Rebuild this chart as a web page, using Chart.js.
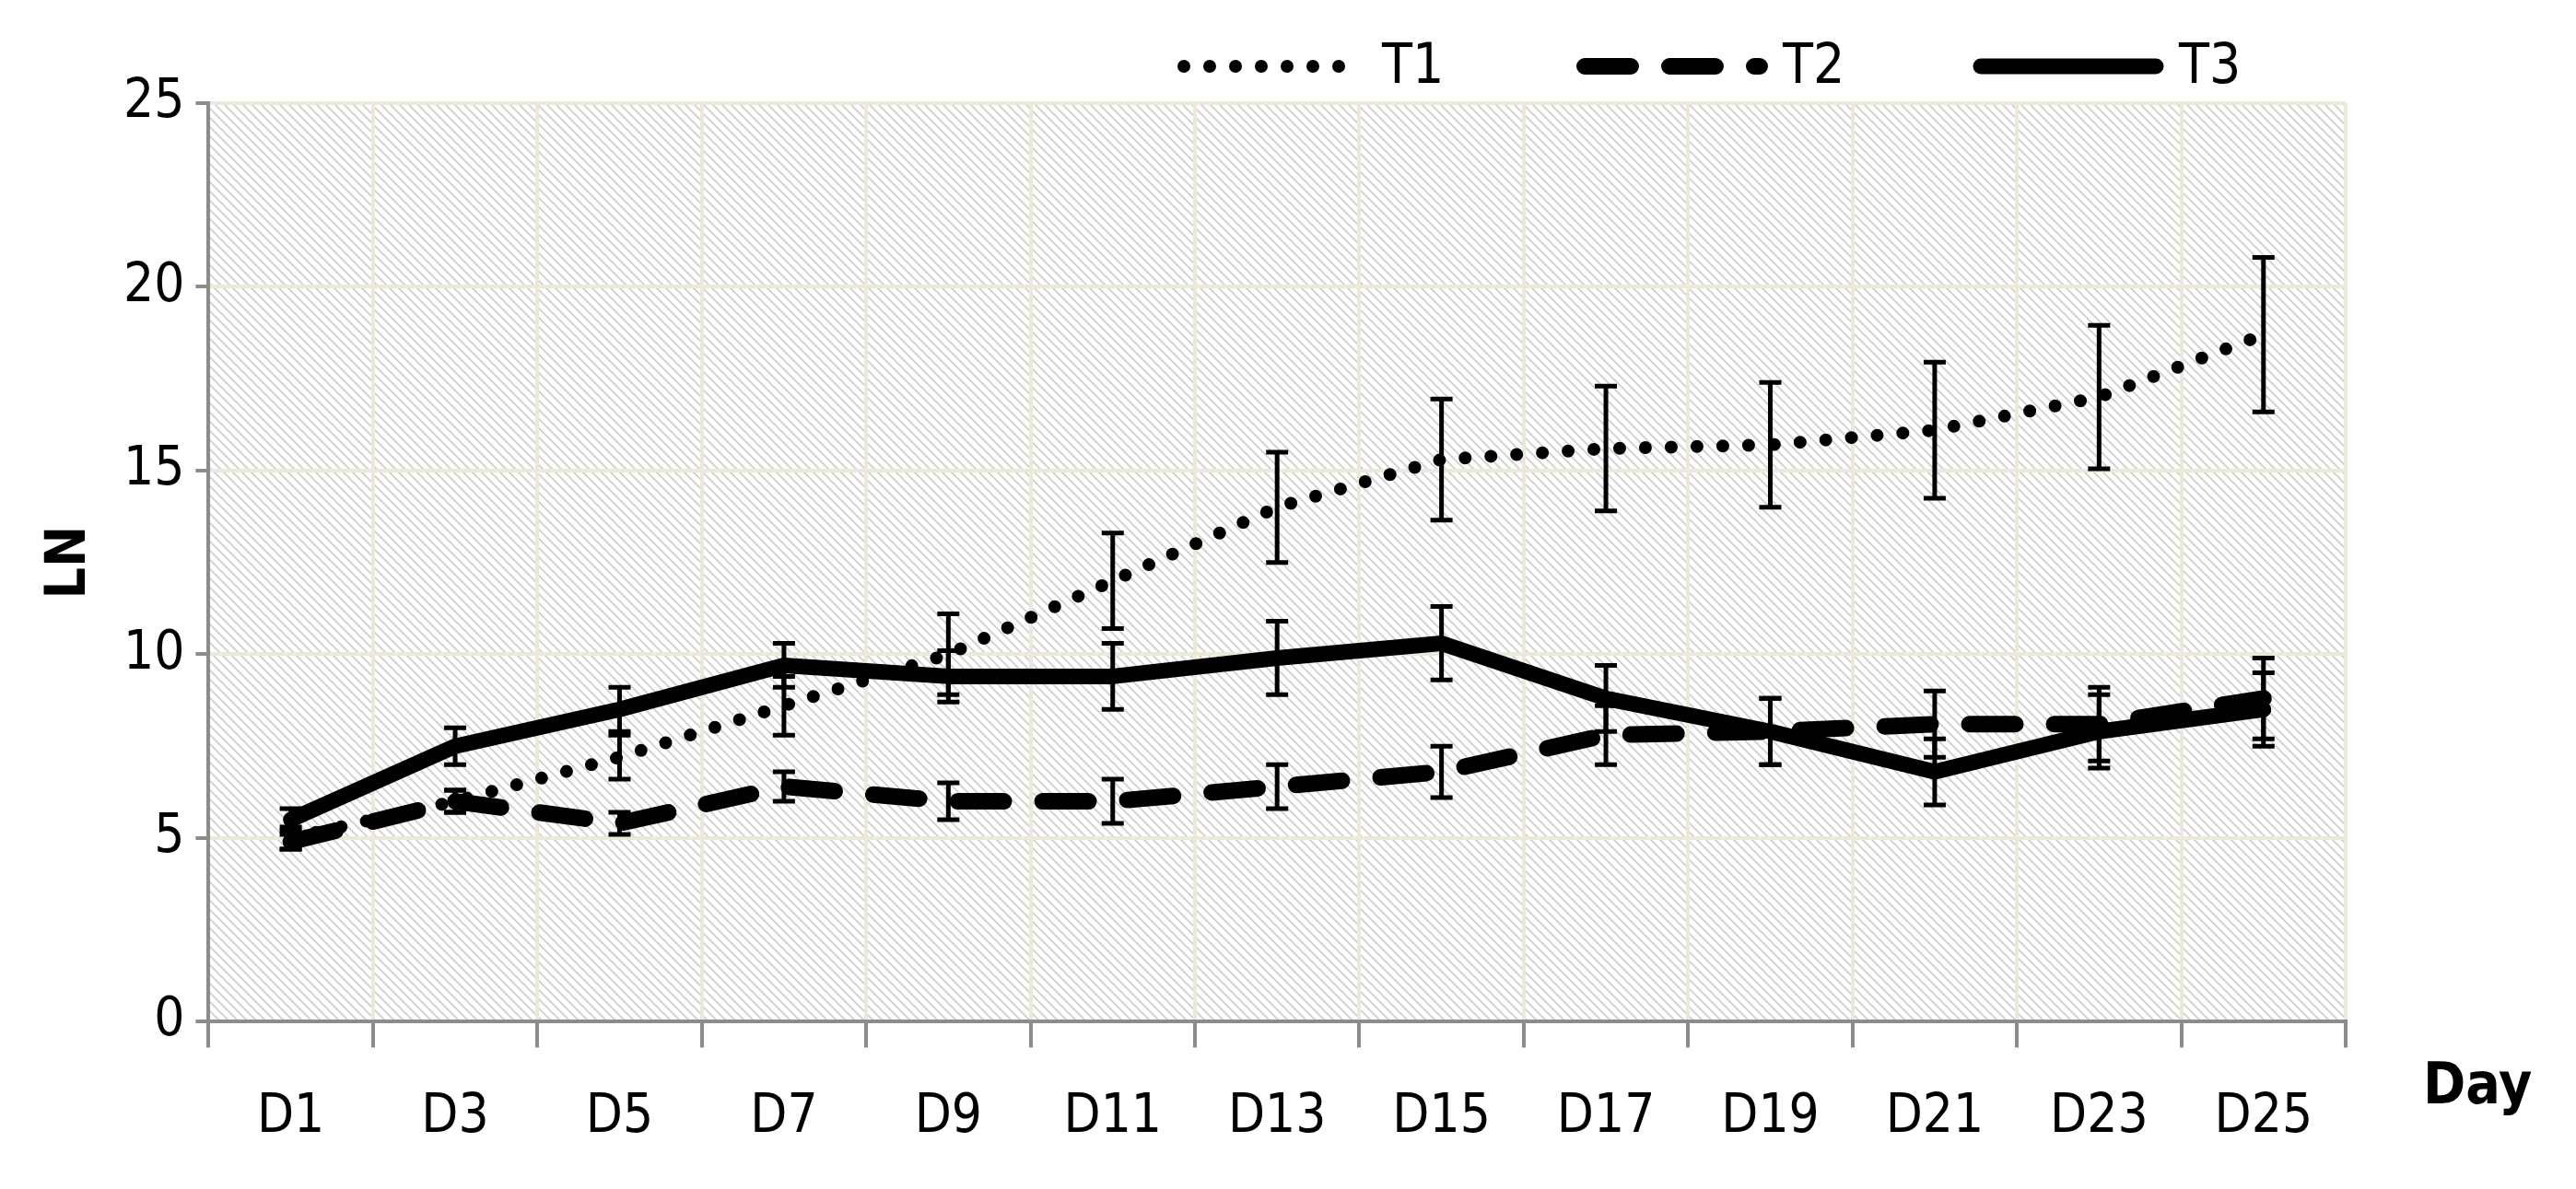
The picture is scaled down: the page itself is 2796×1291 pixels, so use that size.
<!DOCTYPE html>
<html>
<head>
<meta charset="utf-8">
<script src="https://cdn.jsdelivr.net/npm/chart.js@4.4.1/dist/chart.umd.min.js"></script>
<style>
  html, body { margin: 0; padding: 0; background: #fff; }
  #wrap { width: 2796px; height: 1291px; }
</style>
</head>
<body>
<div id="wrap"><canvas id="chart" width="2796" height="1291"></canvas></div>
<script>
const days = ["D1", "D3", "D5", "D7", "D9", "D11", "D13", "D15", "D17", "D19", "D21", "D23", "D25"];
const yTicks = [0, 5, 10, 15, 20, 25];

const t1 = [5.0, 6.0, 7.2, 8.6, 10.0, 12.0, 14.0, 15.3, 15.6, 15.7, 16.1, 17.0, 18.7];
const t1Err = [0.3, 0.3, 0.6, 0.8, 1.1, 1.3, 1.5, 1.65, 1.7, 1.7, 1.85, 1.95, 2.1];
const t2 = [4.9, 6.0, 5.4, 6.4, 6.0, 6.0, 6.4, 6.8, 7.8, 7.9, 8.1, 8.1, 8.8];
const t2Err = [0.2, 0.3, 0.3, 0.4, 0.5, 0.6, 0.6, 0.7, 0.8, 0.9, 0.9, 1.0, 1.1];
const t3 = [5.5, 7.5, 8.5, 9.7, 9.4, 9.4, 9.9, 10.3, 8.8, 7.9, 6.8, 7.9, 8.5];
const t3Err = [0.3, 0.5, 0.6, 0.6, 0.7, 0.9, 1.0, 1.0, 0.9, 0.9, 0.9, 1.0, 1.0];

const FONT = "'DejaVu Sans Condensed', 'Liberation Sans Narrow', sans-serif";

function makeHatch() {
  const c = document.createElement("canvas");
  c.width = 10;
  c.height = 10;
  const g = c.getContext("2d");
  g.fillStyle = "#ffffff";
  g.fillRect(0, 0, 10, 10);
  g.strokeStyle = "#cfcfcf";
  g.lineWidth = 1.8;
  g.beginPath();
  g.moveTo(0, 0); g.lineTo(10, 10);
  g.moveTo(-5, 5); g.lineTo(5, 15);
  g.moveTo(5, -5); g.lineTo(15, 5);
  g.stroke();
  return g.createPattern(c, "repeat");
}

const series = [
  { label: "T1", data: t1, err: t1Err, width: 14, dash: [0, 28], cap: "round" },
  { label: "T2", data: t2, err: t2Err, width: 18, dash: [50, 42], cap: "round" },
  { label: "T3", data: t3, err: t3Err, width: 17, dash: [], cap: "round" },
];

const backgroundPlugin = {
  id: "hatchBg",
  beforeDraw(chart) {
    const { ctx, chartArea: a } = chart;
    ctx.save();
    ctx.fillStyle = makeHatch();
    ctx.fillRect(a.left, a.top, a.right - a.left, a.bottom - a.top);
    ctx.restore();
  },
};

const errorBarPlugin = {
  id: "errorBars",
  afterDatasetsDraw(chart) {
    const { ctx, scales } = chart;
    ctx.save();
    ctx.strokeStyle = "#000";
    ctx.lineWidth = 5;
    series.forEach((s) => {
      s.data.forEach((v, i) => {
        const x = scales.x.getPixelForValue(i);
        const yTop = scales.y.getPixelForValue(v + s.err[i]);
        const yBot = scales.y.getPixelForValue(v - s.err[i]);
        ctx.beginPath();
        ctx.moveTo(x, yTop); ctx.lineTo(x, yBot);
        ctx.moveTo(x - 12, yTop); ctx.lineTo(x + 12, yTop);
        ctx.moveTo(x - 12, yBot); ctx.lineTo(x + 12, yBot);
        ctx.stroke();
      });
    });
    ctx.restore();
  },
};

const textPlugin = {
  id: "extraText",
  afterDraw(chart) {
    const { ctx } = chart;
    ctx.save();
    ctx.fillStyle = "#000";
    ctx.font = "bold 62px " + FONT;
    ctx.textBaseline = "middle";
    ctx.fillText("Day", 2630, 1182);

    // legend
    ctx.font = "60px " + FONT;
    const items = [
      { x: 1285, tx: 1500 },
      { x: 1720, tx: 1935 },
      { x: 2150, tx: 2365 },
    ];
    series.forEach((s, i) => {
      const y = 72;
      ctx.strokeStyle = "#000";
      ctx.lineWidth = s.width;
      ctx.lineCap = s.cap;
      ctx.setLineDash(s.dash);
      ctx.beginPath();
      ctx.moveTo(items[i].x, y);
      ctx.lineTo(items[i].x + 190, y);
      ctx.stroke();
      ctx.setLineDash([]);
      ctx.fillText(s.label, items[i].tx, y + 2);
    });
    ctx.restore();
  },
};

new Chart(document.getElementById("chart"), {
  type: "line",
  data: {
    labels: days,
    datasets: series.map((s) => ({
      label: s.label,
      data: s.data,
      borderColor: "#000",
      borderWidth: s.width,
      borderDash: s.dash,
      borderCapStyle: s.cap,
      borderJoinStyle: "round",
      pointRadius: 0,
      tension: 0,
      fill: false,
    })),
  },
  options: {
    responsive: false,
    animation: false,
    layout: { padding: { top: 112, right: 250, left: 30, bottom: 0 } },
    plugins: { legend: { display: false }, tooltip: { enabled: false } },
    scales: {
      x: {
        offset: true,
        grid: {
          offset: true,
          color: "#ece8da",
          lineWidth: 4,
          drawTicks: true,
          tickLength: 28,
          tickColor: "#8c8c8c",
        },
        border: { color: "#8c8c8c", width: 4 },
        ticks: { color: "#000", font: { family: FONT, size: 58 }, padding: 42 },
      },
      y: {
        min: 0,
        max: 25,
        afterBuildTicks: (axis) => { axis.ticks = yTicks.map((v) => ({ value: v })); },
        grid: { color: "#ece8da", lineWidth: 4, tickLength: 14, tickColor: "#8c8c8c" },
        border: { color: "#8c8c8c", width: 4 },
        ticks: { color: "#000", font: { family: FONT, size: 58 }, padding: 12 },
        title: { display: true, text: "LN", color: "#000", font: { family: FONT, size: 60, weight: "bold" }, padding: 10 },
      },
    },
  },
  plugins: [backgroundPlugin, errorBarPlugin, textPlugin],
});
</script>
</body>
</html>
